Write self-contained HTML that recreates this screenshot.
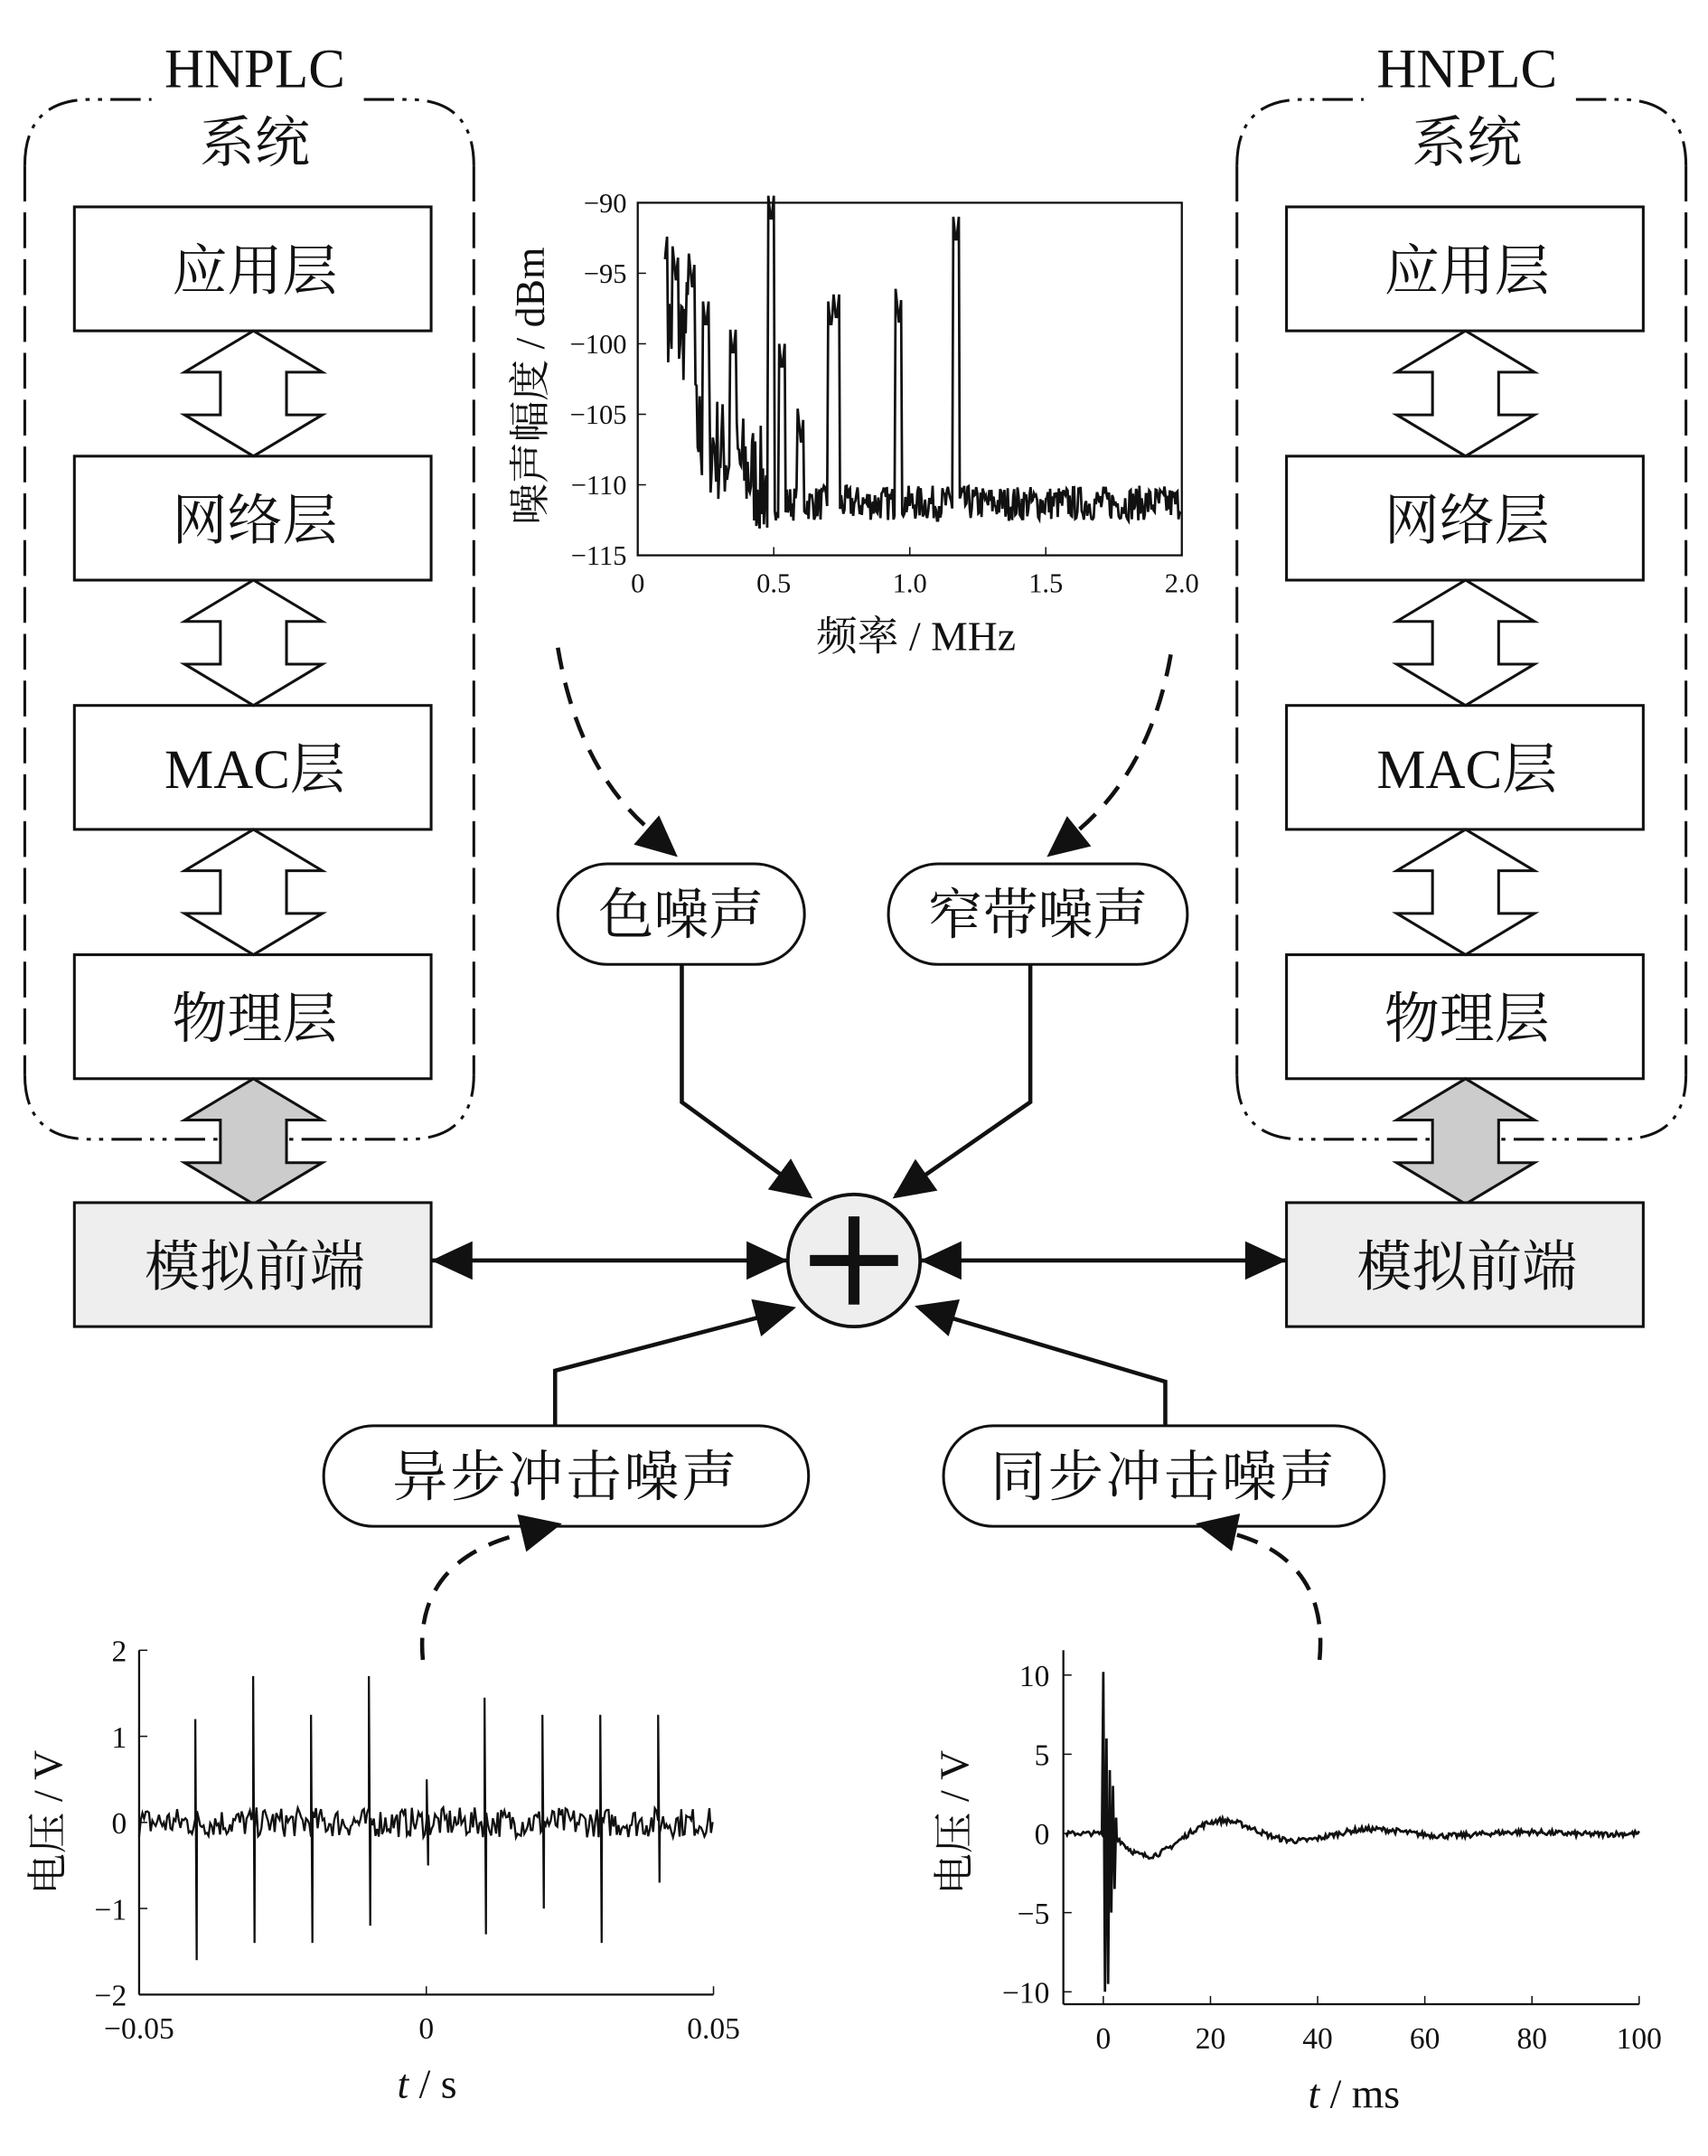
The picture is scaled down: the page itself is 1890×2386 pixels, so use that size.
<!DOCTYPE html>
<html><head><meta charset="utf-8">
<style>
html,body{margin:0;padding:0;background:#fff;}
svg{display:block;}
text{font-family:"Liberation Serif","Noto Serif CJK SC","Noto Sans CJK SC",serif;fill:#111;}
</style></head>
<body>
<svg id="s" width="1890" height="2386" viewBox="0 0 1240 1565" xmlns="http://www.w3.org/2000/svg">
<g id="g"></g>
</svg>
<script>
var g=document.getElementById('g');var h='';
function A(s){h+=s;}
function stack(dx){
  var x0=18+dx,x1=344+dx;
  // sides dashed, top/bottom dash-dot
  A('<path d="M'+x0+',120 L'+x0+',780" fill="none" stroke="#111" stroke-width="2" stroke-dasharray="26,8"/>');
  A('<path d="M'+x1+',120 L'+x1+',780" fill="none" stroke="#111" stroke-width="2" stroke-dasharray="26,8"/>');
  A('<path d="M'+x0+',120 Q'+x0+',72 '+(x0+48)+',72 L'+(x1-48)+',72 Q'+x1+',72 '+x1+',120" fill="none" stroke="#111" stroke-width="2" stroke-dasharray="22,6,3,6,3,6"/>');
  A('<path d="M'+x0+',780 Q'+x0+',827 '+(x0+48)+',827 L'+(x1-48)+',827 Q'+x1+',827 '+x1+',780" fill="none" stroke="#111" stroke-width="2" stroke-dasharray="22,6,3,6,3,6"/>');
  A('<rect x="'+(110+dx)+'" y="40" width="150" height="90" fill="#fff"/>');
  A('<text x="'+(185+dx)+'" y="63" font-size="40" text-anchor="middle">HNPLC</text>');
  A('<text x="'+(185+dx)+'" y="117" font-size="40" text-anchor="middle">系统</text>');
  var labs=['应用层','网络层','MAC层','物理层'],ys=[150,331,512,693];
  for(var i=0;i<4;i++){
    A('<rect x="'+(54+dx)+'" y="'+ys[i]+'" width="259" height="90" fill="#fff" stroke="#111" stroke-width="2"/>');
    A('<text x="'+(185+dx)+'" y="'+(ys[i]+60)+'" font-size="40" text-anchor="middle">'+labs[i]+'</text>');
  }
  for(var i=0;i<4;i++){
    var y0=ys[i]+90,y1=y0+91,fill=i==3?'#ccc':'#fff';
    var cx=184+dx;
    var p=[[cx,y0],[cx+50,y0+30],[cx+24,y0+30],[cx+24,y1-30],[cx+50,y1-30],[cx,y1],[cx-50,y1-30],[cx-24,y1-30],[cx-24,y0+30],[cx-50,y0+30]];
    A('<polygon points="'+p.map(function(q){return q.join(',')}).join(' ')+'" fill="'+fill+'" stroke="#111" stroke-width="2"/>');
  }
  A('<rect x="'+(54+dx)+'" y="873" width="259" height="90" fill="#eee" stroke="#111" stroke-width="2"/>');
  A('<text x="'+(185+dx)+'" y="933" font-size="40" text-anchor="middle">模拟前端</text>');
}
stack(0);stack(880);
function arrowhead(x1,y1,x2,y2){var a=Math.atan2(y2-y1,x2-x1),L=30,W=14;
 var bx=x2-L*Math.cos(a),by=y2-L*Math.sin(a);
 A('<polygon points="'+x2+','+y2+' '+(bx+W*Math.sin(a))+','+(by-W*Math.cos(a))+' '+(bx-W*Math.sin(a))+','+(by+W*Math.cos(a))+'" fill="#111"/>');}
function line(pts){A('<polyline points="'+pts.map(function(q){return q.join(',')}).join(' ')+'" fill="none" stroke="#111" stroke-width="3"/>');}
A('<circle cx="620" cy="915" r="48" fill="#eee" stroke="#111" stroke-width="2.5"/>');
A('<rect x="616" y="883" width="8" height="64" fill="#111"/><rect x="588" y="911" width="64" height="8" fill="#111"/>');
line([[313,915],[572,915]]);arrowhead(572,915,313,915);arrowhead(313,915,572,915);
line([[668,915],[934,915]]);arrowhead(934,915,668,915);arrowhead(668,915,934,915);
function pill(x,y,w,hh,t,fs,ls){A('<rect x="'+x+'" y="'+y+'" width="'+w+'" height="'+hh+'" rx="36" fill="#fff" stroke="#111" stroke-width="2"/>');
A('<text x="'+(x+w/2)+'" y="'+(y+hh/2+14)+'" font-size="'+fs+'" text-anchor="middle" letter-spacing="'+ls+'">'+t+'</text>');}
line([[495,700],[495,800],[588,868]]);arrowhead(495,800,590,870);
line([[748,700],[748,800],[650,868]]);arrowhead(748,800,648,870);
line([[403,1035],[403,995],[575,950]]);arrowhead(403,995,578,949);
line([[846,1035],[846,1003],[668,950]]);arrowhead(846,1003,664,948);
pill(405,627,179,73,'色噪声',40,0);pill(645,627,217,73,'窄带噪声',40,0);
pill(235,1035,352,73,'异步冲击噪声',40,2);pill(685,1035,320,73,'同步冲击噪声',40,2);
A('<path d="M405,470 Q420,560 475,605" fill="none" stroke="#111" stroke-width="3" stroke-dasharray="16,10"/>');arrowhead(455,590,492,622);
A('<path d="M850,475 Q835,560 780,605" fill="none" stroke="#111" stroke-width="3" stroke-dasharray="16,10"/>');arrowhead(800,590,760,622);
A('<path d="M307,1205 Q300,1130 385,1112" fill="none" stroke="#111" stroke-width="3" stroke-dasharray="16,10"/>');arrowhead(370,1115,408,1106);
A('<path d="M958,1205 Q965,1130 890,1112" fill="none" stroke="#111" stroke-width="3" stroke-dasharray="16,10"/>');arrowhead(900,1113,868,1106);
var seed=7;function r(){seed=(seed*16807)%2147483647;return seed/2147483647;}
A('<rect x="463" y="147" width="395" height="256" fill="none" stroke="#111" stroke-width="1.5"/>');
var yt=[-90,-95,-100,-105,-110,-115];
for(var i=0;i<6;i++){var y=147+i*51.2;A('<line x1="463" y1="'+y+'" x2="469" y2="'+y+'" stroke="#111"/><text x="455" y="'+(y+7)+'" font-size="20" text-anchor="end">'+(yt[i]<0?'−'+(-yt[i]):yt[i])+'</text>');}
var xt=['0','0.5','1.0','1.5','2.0'];
for(var i=0;i<5;i++){var x=463+i*98.75;A('<line x1="'+x+'" y1="403" x2="'+x+'" y2="397" stroke="#111"/><text x="'+x+'" y="430" font-size="20" text-anchor="middle">'+xt[i]+'</text>');}
A('<text x="665" y="472" font-size="30" text-anchor="middle">频率 / MHz</text>');
A('<text transform="translate(395,280) rotate(-90)" font-size="30" text-anchor="middle">噪声幅度 / dBm</text>');
function ty(v){return 147+(-90-v)*10.24;}
var pts=[],spikes={0.1:-94,0.14:-95.5,0.2:-96,0.25:-99,0.35:-101,0.49:-91.5,0.53:-102,0.6:-107,0.71:-99,0.73:-98.5,0.96:-98.5,1.17:-93};
for(var f=0.1;f<=2.0;f+=0.004){var base=f<0.2?-99:(f<0.5?-106+(f-0.2)*-15:-111.3);var v=base+(r()-0.5)*(f<0.5?8:2.5);
 for(var k in spikes){var d=Math.abs(f-k);if(d<0.012)v=Math.max(v,spikes[k]+d*200);}
 pts.push((463+f*197.5).toFixed(1)+','+ty(v).toFixed(1));}
A('<polyline points="'+pts.join(' ')+'" fill="none" stroke="#111" stroke-width="1.8"/>');
A('<line x1="101" y1="1198" x2="101" y2="1448" stroke="#111" stroke-width="1.5"/><line x1="101" y1="1448" x2="518" y2="1448" stroke="#111" stroke-width="1.5"/>');
var yl=['2','1','0','−1','−2'];for(var i=0;i<5;i++){var y=1198+i*62.5;A('<line x1="101" y1="'+y+'" x2="107" y2="'+y+'" stroke="#111"/><text x="92" y="'+(y+8)+'" font-size="22" text-anchor="end">'+yl[i]+'</text>');}
var xl=['−0.05','0','0.05'];for(var i=0;i<3;i++){var x=101+i*208.5;A('<line x1="'+x+'" y1="1448" x2="'+x+'" y2="1442" stroke="#111"/><text x="'+x+'" y="1480" font-size="22" text-anchor="middle">'+xl[i]+'</text>');}
A('<text x="310" y="1523" font-size="30" text-anchor="middle"><tspan font-style="italic">t</tspan> / s</text>');
A('<text transform="translate(45,1323) rotate(-90)" font-size="30" text-anchor="middle">电压 / V</text>');
pts=[];var sp=[[142,1.2,-1.6],[184,1.7,-1.4],[226,1.25,-1.4],[268,1.7,-1.2],[310,0.5,-0.5],[352,1.45,-1.3],[394,1.25,-1],[436,1.25,-1.4],[478,1.25,-0.7]];
function by(v){return 1323-v*62.5;}
for(var x=101;x<=518;x+=1.2){var v=(r()-0.5)*0.35;pts.push(x.toFixed(1)+','+by(v).toFixed(1));
 for(var j=0;j<sp.length;j++){if(Math.abs(x-sp[j][0])<0.6){pts.push(x+','+by(sp[j][1]));pts.push((x+1)+','+by(sp[j][2]));}}}
A('<polyline points="'+pts.join(' ')+'" fill="none" stroke="#111" stroke-width="1.5"/>');
A('<line x1="772" y1="1198" x2="772" y2="1455" stroke="#111" stroke-width="1.5"/><line x1="772" y1="1455" x2="1190" y2="1455" stroke="#111" stroke-width="1.5"/>');
var yr=['10','5','0','−5','−10'];for(var i=0;i<5;i++){var y=1216+i*57.5;A('<line x1="772" y1="'+y+'" x2="778" y2="'+y+'" stroke="#111"/><text x="762" y="'+(y+8)+'" font-size="22" text-anchor="end">'+yr[i]+'</text>');}
for(var i=0;i<6;i++){var x=801+i*77.8;A('<line x1="'+x+'" y1="1455" x2="'+x+'" y2="1449" stroke="#111"/><text x="'+x+'" y="1487" font-size="22" text-anchor="middle">'+(i*20)+'</text>');}
A('<text x="983" y="1530" font-size="30" text-anchor="middle"><tspan font-style="italic">t</tspan> / ms</text>');
A('<text transform="translate(703,1323) rotate(-90)" font-size="30" text-anchor="middle">电压 / V</text>');
function ry(v){return 1331-v*11.5;}
pts=[];for(var t=-7;t<0;t+=0.25){pts.push((801+t*3.89).toFixed(1)+','+ry((r()-0.5)*0.3).toFixed(1));}
var sk=[[0,10.2],[0.3,-10],[0.6,6],[0.9,-9.5],[1.2,4],[1.5,-5],[1.8,3],[2.1,-3.5],[2.4,1]];
for(var i=0;i<sk.length;i++)pts.push((801+sk[i][0]*3.89).toFixed(1)+','+ry(sk[i][1]).toFixed(1));
for(var t=2.5;t<=100;t+=0.25){var v=-2*Math.exp(-t/25)*Math.sin((t-2)/28*2*Math.PI)+(r()-0.5)*0.35;
 pts.push((801+t*3.89).toFixed(1)+','+ry(v).toFixed(1));}
A('<polyline points="'+pts.join(' ')+'" fill="none" stroke="#111" stroke-width="1.8"/>');
g.innerHTML=h;
</script>
</body></html>
